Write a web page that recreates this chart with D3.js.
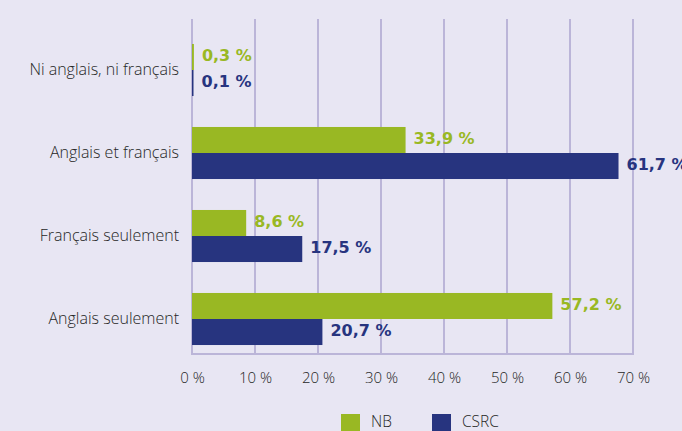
<!DOCTYPE html>
<html>
<head>
<meta charset="utf-8">
<script src="https://cdn.jsdelivr.net/npm/d3@7"></script>
<style>
  html, body { margin: 0; padding: 0; background: #e8e6f3; }
  svg { display: block; }
</style>
</head>
<body>
<div id="chart"></div>
<script>
// ---- data ----
const categories = ["Ni anglais, ni français", "Anglais et français", "Français seulement", "Anglais seulement"];
const seriesNames = ["NB", "CSRC"];
// bar lengths as drawn in the picture
const nbValues = [0.3, 33.9, 8.6, 57.2];
const csrcValues = [0.1, 67.7, 17.5, 20.7];
// printed value labels
const nbLabels = ["0,3 %", "33,9 %", "8,6 %", "57,2 %"];
const csrcLabels = ["0,1 %", "61,7 %", "17,5 %", "20,7 %"];
const tickValues = [0, 10, 20, 30, 40, 50, 60, 70];
const tickLabels = ["0 %", "10 %", "20 %", "30 %", "40 %", "50 %", "60 %", "70 %"];

const colors = { NB: "#99b823", CSRC: "#27347f" };

const W = 682, H = 431;
const svg = d3.select("#chart").append("svg").attr("width", W).attr("height", H);
svg.append("rect").attr("width", W).attr("height", H).attr("fill", "#e8e6f3");

const x = d3.scaleLinear().domain([0, 70]).range([192, 633]);
const y = d3.scaleBand().domain(categories).range([28.5, 360.5]).paddingInner(0.373).paddingOuter(0.1865);
const sub = d3.scaleBand().domain(seriesNames).range([0, y.bandwidth()]);

const gridTop = 19, gridBottom = 354;
const gridColor = "#bbb5d8";
const textFont = "'Open Sans', Lato, sans-serif";
const textColor = "#262626";

// gridlines
svg.append("g").selectAll("line").data(tickValues).join("line")
  .attr("x1", d => x(d)).attr("x2", d => x(d))
  .attr("y1", gridTop).attr("y2", gridBottom)
  .attr("stroke", gridColor).attr("stroke-width", 2);
svg.append("line")
  .attr("x1", x(0) - 1).attr("x2", x(70) + 1)
  .attr("y1", gridBottom).attr("y2", gridBottom)
  .attr("stroke", gridColor).attr("stroke-width", 2);

// x axis labels
const xAxis = d3.axisBottom(x).tickValues(tickValues).tickFormat((d, i) => tickLabels[i]).tickSize(0).tickPadding(0);
const gx = svg.append("g").attr("transform", `translate(0, 372)`).call(xAxis);
gx.select(".domain").remove();
gx.selectAll("text")
  .attr("dy", "0.71em")
  .attr("fill", textColor)
  .style("font-family", textFont)
  .style("font-weight", 300)
  .style("font-size", "15px");

// y axis labels
const yAxis = d3.axisLeft(y).tickSize(0).tickPadding(0);
const gy = svg.append("g").attr("transform", `translate(179, -1)`).call(yAxis);
gy.select(".domain").remove();
gy.selectAll("text")
  .attr("fill", textColor)
  .attr("dy", "0.35em")
  .style("font-family", textFont)
  .style("font-weight", 300)
  .style("font-size", "16px");

// bars
const series = [
  { name: "NB", values: nbValues, labels: nbLabels },
  { name: "CSRC", values: csrcValues, labels: csrcLabels }
];
series.forEach(s => {
  const rows = categories.map((c, i) => ({ c, v: s.values[i], l: s.labels[i] }));
  svg.append("g").selectAll("rect").data(rows).join("rect")
    .attr("x", x(0))
    .attr("y", d => y(d.c) + sub(s.name))
    .attr("width", d => Math.max(x(d.v) - x(0), 1.5))
    .attr("height", sub.bandwidth())
    .attr("fill", colors[s.name]);
  svg.append("g").selectAll("text").data(rows).join("text")
    .attr("x", d => Math.max(x(d.v), x(0) + 1.5) + 8)
    .attr("y", d => y(d.c) + sub(s.name) + sub.bandwidth() / 2 + 4)
    .attr("fill", colors[s.name])
    .style("font-family", "'DejaVu Sans', sans-serif")
    .style("font-weight", "bold")
    .style("font-size", "16px")
    .text(d => d.l);
});

// legend
const legend = [
  { name: "NB", x: 341 },
  { name: "CSRC", x: 432 }
];
const lg = svg.append("g");
legend.forEach(l => {
  lg.append("rect").attr("x", l.x).attr("y", 414).attr("width", 19).attr("height", 19).attr("fill", colors[l.name]);
  lg.append("text").attr("x", l.x + 30).attr("y", 427)
    .attr("fill", textColor)
    .style("font-family", textFont)
    .style("font-weight", 300)
    .style("font-size", "15.5px")
    .text(l.name);
});
</script>
</body>
</html>
